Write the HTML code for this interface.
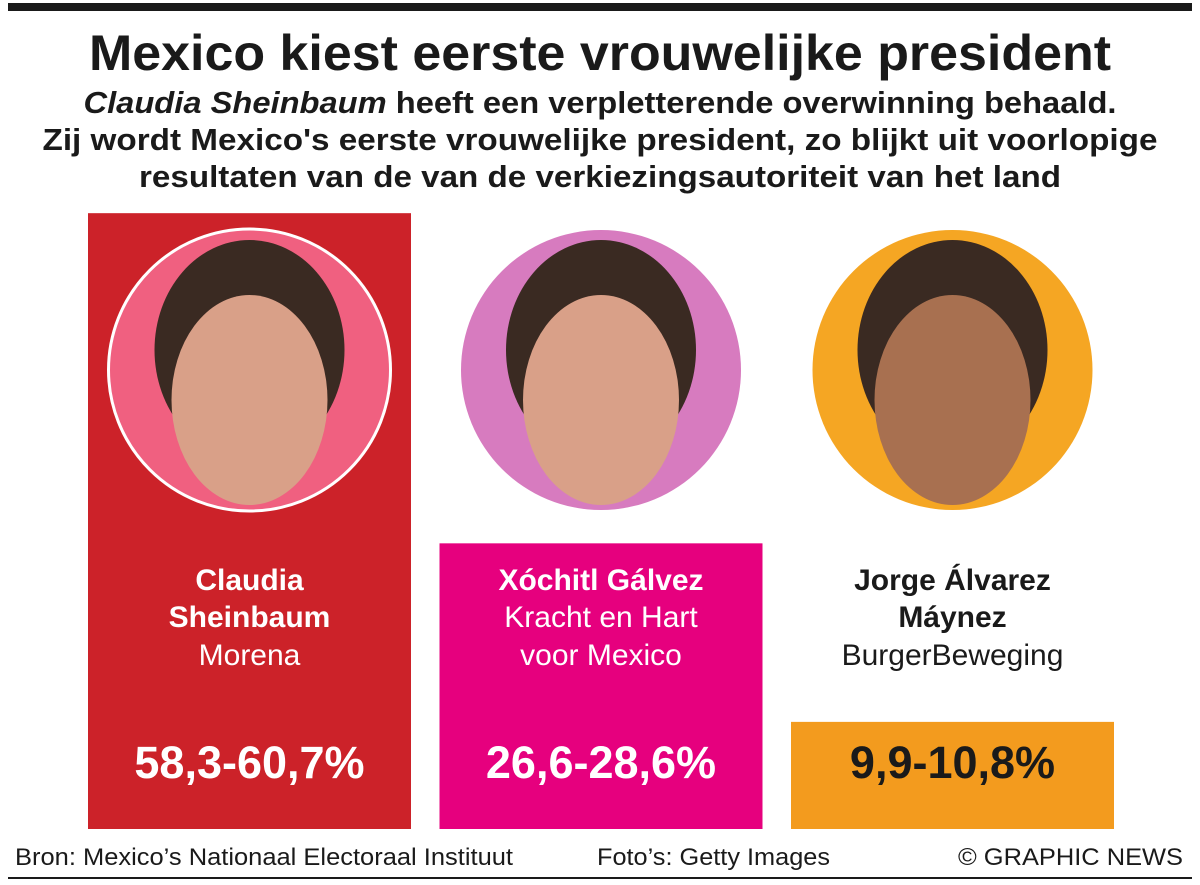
<!DOCTYPE html>
<html><head><meta charset="utf-8"><style>
html,body{margin:0;padding:0;background:#fff;}
svg{display:block;font-family:"Liberation Sans",Arial,sans-serif;}
</style></head><body>
<svg id="chart" width="1200" height="885" viewBox="0 0 1200 885">
<rect x="8" y="3" width="1184" height="8" fill="#1a1a1a"/>
<text x="600" y="70" text-anchor="middle" font-size="50" font-weight="bold" fill="#1a1a1a" textLength="1022" lengthAdjust="spacingAndGlyphs">Mexico kiest eerste vrouwelijke president</text>
<text x="600" y="113" text-anchor="middle" font-size="31" font-weight="bold" fill="#1a1a1a" textLength="1033" lengthAdjust="spacingAndGlyphs"><tspan font-style="italic">Claudia Sheinbaum</tspan> heeft een verpletterende overwinning behaald.</text>
<text x="600" y="150" text-anchor="middle" font-size="31" font-weight="bold" fill="#1a1a1a" textLength="1115" lengthAdjust="spacingAndGlyphs">Zij wordt Mexico's eerste vrouwelijke president, zo blijkt uit voorlopige</text>
<text x="600" y="187" text-anchor="middle" font-size="31" font-weight="bold" fill="#1a1a1a" textLength="922" lengthAdjust="spacingAndGlyphs">resultaten van de van de verkiezingsautoriteit van het land</text>
<g id="bars"></g>
<text x="15" y="865" font-size="24" fill="#1a1a1a" textLength="498" lengthAdjust="spacingAndGlyphs">Bron: Mexico’s Nationaal Electoraal Instituut</text>
<text x="597" y="865" font-size="24" fill="#1a1a1a" textLength="233" lengthAdjust="spacingAndGlyphs">Foto’s: Getty Images</text>
<text x="958" y="865" font-size="24" fill="#1a1a1a" textLength="225" lengthAdjust="spacingAndGlyphs">© GRAPHIC NEWS</text>
<rect x="8" y="877" width="1184" height="2" fill="#1a1a1a"/>
</svg>
<script>
const candidates = ["Claudia Sheinbaum", "Xóchitl Gálvez", "Jorge Álvarez Máynez"];
const nameLine1 = ["Claudia", "Xóchitl Gálvez", "Jorge Álvarez"];
const nameLine2 = ["Sheinbaum", "", "Máynez"];
const parties = ["Morena", "Kracht en Hart|voor Mexico", "BurgerBeweging"];
const lowValues = [58.3, 26.6, 9.9];
const highValues = [60.7, 28.6, 10.8];
const labels = ["58,3-60,7%", "26,6-28,6%", "9,9-10,8%"];

const colors = ["#cc2229", "#e6007e", "#f39b1e"];
const circleColors = ["#f06080", "#d77bbf", "#f5a623"];
const textColors = ["#fff", "#fff", "#1a1a1a"];
const baseY = 829, scale = 10.35, barW = 323, x0 = 88, step = 351.5;
function yScale(v){ return baseY - v*scale; }
const NS = "http://www.w3.org/2000/svg";
const g = document.getElementById('bars');
function mk(tag, attrs, txt){ const e = document.createElementNS(NS, tag); for (const k in attrs) e.setAttribute(k, attrs[k]); if (txt!==undefined) e.textContent = txt; g.appendChild(e); return e; }
candidates.forEach((c, i) => {
  const mid = (lowValues[i] + highValues[i]) / 2;
  const x = x0 + i*step, y = yScale(mid), cx = x + barW/2;
  const r = mk('rect', {x:x, y:y, width:barW, height:baseY-y, fill:colors[i]});
  
  
  const circ = mk('circle', {cx:cx, cy:370, r: i===0?141:140, fill:circleColors[i], stroke: i===0?'#fff':'none', 'stroke-width':3});
  
  
  const hair = mk('ellipse', {cx:cx, cy:350, rx:95, ry:110, fill:'#3a2a22'});
  
  
  const face = mk('ellipse', {cx:cx, cy:400, rx:78, ry:105, fill: i===2?'#a87050':'#d9a088'});
  
  
  const tc = textColors[i];
  const n1 = mk('text', {x:cx, y:590, 'text-anchor':'middle', 'font-size':30, 'font-weight':'bold', fill:tc}, nameLine1[i]);
  
  
  let py = 627;
  if (nameLine2[i]) {
    const n2 = mk('text', {x:cx, y:627, 'text-anchor':'middle', 'font-size':30, 'font-weight':'bold', fill:tc}, nameLine2[i]);
    
    
    py = 665;
  }
  parties[i].split('|').forEach((p, j) => {
    const t = mk('text', {x:cx, y:py + j*38, 'text-anchor':'middle', 'font-size':30, fill:tc}, p);
    
    
  });
  const pv = mk('text', {x:cx, y:778, 'text-anchor':'middle', 'font-size':45, 'font-weight':'bold', fill:tc}, labels[i]);
  
  
});
</script>
</body></html>
